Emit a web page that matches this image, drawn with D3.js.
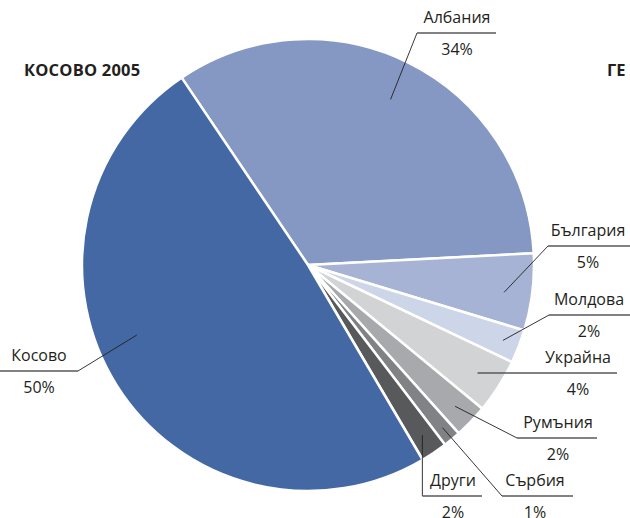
<!DOCTYPE html>
<html>
<head>
<meta charset="utf-8">
<script src="https://cdn.jsdelivr.net/npm/d3@7"></script>
<style>
  html, body { margin: 0; padding: 0; background: #fff; overflow: hidden; }
  text { font-family: "Open Sans", sans-serif; fill: #231f20; }
</style>
</head>
<body>
<div id="chart"></div>
<script>
// Slices in clockwise order, starting from the Kosovo/Albania boundary
const countries = ["Албания", "България", "Молдова", "Украйна", "Румъния", "Сърбия", "Други", "Косово"];
// shares
const shares = [33.6, 5.5, 2.4, 3.9, 2.4, 1.25, 1.9, 49.0];
// printed percentage labels
const pctLabels = ["34%", "5%", "2%", "4%", "2%", "1%", "2%", "50%"];
const colors = ["#8597c3", "#a6b3d5", "#cdd5e9", "#d1d3d4", "#a7a9ac", "#808285", "#58595b", "#4468a3"];

const width = 630, height = 518;
const cx = 308, cy = 265, radius = 226;
const startDeg = -34;

// label layout: leader radius, angle tweak (deg), elbow point, end of rule, text centre
const labelLayout = [
  { r: 185, da: 0,  ex: 417, ey: 33,  x2: 496, tx: 457 },
  { r: 198, da: 1,  ex: 548, ey: 246, x2: 632, tx: 588 },
  { r: 209, da: 0,  ex: 549, ey: 315, x2: 632, tx: 589 },
  { r: 201, da: 0,  ex: null, ey: 373, x2: 617, tx: 578 },
  { r: 204, da: 0,  ex: 517, ey: 438, x2: 597, tx: 558 },
  { r: 211, da: 0,  ex: 502, ey: 496, x2: 573, tx: 535 },
  { r: 205, da: 0,  ex: null, ey: 496, x2: 482, tx: 453, vertical: true },
  { r: 185, da: 10, ex: 78,  ey: 371, x2: 0,   tx: 39 }
];

const svg = d3.select("#chart")
  .append("svg")
    .attr("width", width)
    .attr("height", height);

svg.append("text")
  .attr("x", 24)
  .attr("y", 76)
  .style("font-weight", "bold")
  .style("font-size", "16.5px")
  .style("letter-spacing", "0.2px")
  .text("КОСОВО 2005");

svg.append("text")
  .attr("x", 607)
  .attr("y", 76)
  .style("font-weight", "bold")
  .style("font-size", "16.5px")
  .text("ГЕ");

const rad = Math.PI / 180;

const pie = d3.pie()
  .sort(null)
  .value(d => d)
  .startAngle(startDeg * rad)
  .endAngle((startDeg + 360) * rad);

const arcs = pie(shares);

const arc = d3.arc()
  .innerRadius(0)
  .outerRadius(radius);

const g = svg.append("g")
  .attr("transform", `translate(${cx},${cy})`);

g.selectAll("path.slice")
  .data(arcs)
  .join("path")
    .attr("class", "slice")
    .attr("d", arc)
    .style("fill", (d, i) => colors[i])
    .style("stroke", "#fff")
    .style("stroke-width", 2.5)
    .style("stroke-linejoin", "round");

// leader lines and labels
const labels = svg.append("g");

arcs.forEach(function(d, i) {
  const lay = labelLayout[i];
  const a = (d.startAngle + d.endAngle) / 2 + lay.da * rad;
  const px = cx + lay.r * Math.sin(a);
  const py = cy - lay.r * Math.cos(a);

  let elbowX = lay.ex, elbowY = lay.ey;
  if (lay.ex === null) elbowX = px;

  // diagonal (or vertical) leader from inside the slice to the rule
  if (lay.vertical || lay.ex !== null) {
    labels.append("line")
      .attr("x1", px).attr("y1", py)
      .attr("x2", elbowX).attr("y2", elbowY)
      .style("stroke", "#231f20")
      .style("stroke-width", 0.9);
  }

  labels.append("line")
    .attr("x1", elbowX).attr("y1", elbowY)
    .attr("x2", lay.x2).attr("y2", elbowY)
    .style("stroke", "#58595b")
    .style("stroke-width", 1.3);

  labels.append("text")
    .attr("x", lay.tx)
    .attr("y", elbowY - 10)
    .style("text-anchor", "middle")
    .style("font-size", "16px")
    .text(countries[i]);

  labels.append("text")
    .attr("x", lay.tx)
    .attr("y", elbowY + 22)
    .style("text-anchor", "middle")
    .style("font-size", "16px")
    .text(pctLabels[i]);
});
</script>
</body>
</html>
